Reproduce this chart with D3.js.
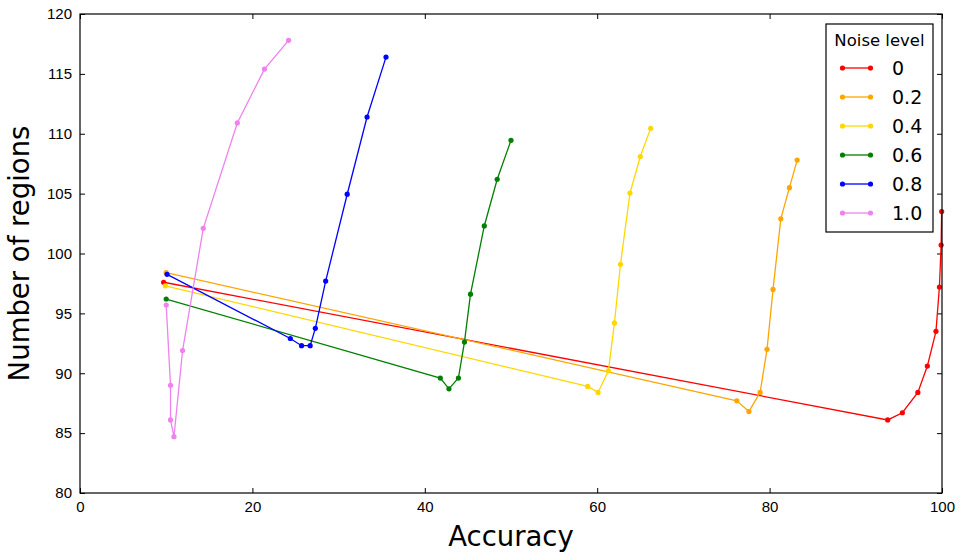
<!DOCTYPE html>
<head>
<meta charset="utf-8">
<script src="https://d3js.org/d3.v7.min.js"></script>
<style>
  body { margin: 0; background: #fff; }
  svg { font-family: "DejaVu Sans", sans-serif; }
  .tick text { font-size: 15px; fill: #000; }
  .tick line { stroke: #000; }
  .frame { fill: none; stroke: #000; stroke-width: 1.2px; }
  .series { fill: none; stroke-width: 1.3px; }
  .ax-title { font-size: 27.5px; fill: #000; }
  .leg-title { font-size: 16.5px; }
  .leg-label { font-size: 19px; }
</style>
</head>
<body>
<script>
// noise levels and colours
var noiseLevels = ["0", "0.2", "0.4", "0.6", "0.8", "1.0"];
var colors = ["#ff0000", "#ffa500", "#ffd700", "#008000", "#0000ff", "#ee82ee"];

// accuracy (x) per noise level
var acc0  = [9.7, 93.7, 95.4, 97.2, 98.3, 99.3, 99.7, 99.9, 99.96];
var acc02 = [10.0, 76.2, 77.6, 78.9, 79.7, 80.4, 81.3, 82.3, 83.2];
var acc04 = [9.9, 58.9, 60.1, 61.3, 62.0, 62.7, 63.8, 65.0, 66.2];
var acc06 = [10.0, 41.8, 42.8, 43.9, 44.6, 45.3, 46.9, 48.4, 50.0];
var acc08 = [10.1, 24.4, 25.7, 26.7, 27.3, 28.5, 31.0, 33.3, 35.5];
var acc10 = [10.0, 10.5, 10.5, 10.9, 11.9, 14.3, 18.25, 21.4, 24.2];

// number of regions (y) per noise level
var reg0  = [97.6, 86.1, 86.7, 88.4, 90.6, 93.5, 97.2, 100.7, 103.5];
var reg02 = [98.4, 87.7, 86.8, 88.4, 92.0, 97.0, 102.9, 105.5, 107.8];
var reg04 = [97.3, 88.9, 88.4, 90.2, 94.2, 99.1, 105.05, 108.1, 110.45];
var reg06 = [96.2, 89.6, 88.7, 89.6, 92.6, 96.6, 102.3, 106.2, 109.45];
var reg08 = [98.26, 92.9, 92.3, 92.3, 93.75, 97.7, 104.95, 111.4, 116.4];
var reg10 = [95.7, 89.0, 86.1, 84.7, 91.9, 102.1, 110.9, 115.4, 117.8];

var xTicks = [0, 20, 40, 60, 80, 100];
var yTicks = [80, 85, 90, 95, 100, 105, 110, 115, 120];

var accs = [acc0, acc02, acc04, acc06, acc08, acc10];
var regs = [reg0, reg02, reg04, reg06, reg08, reg10];
var series = noiseLevels.map(function(n, i) {
  return { name: n, color: colors[i],
    pts: accs[i].map(function(a, j) { return [a, regs[i][j]]; }) };
});

var W = 969, H = 554;
var margin = {top: 14, right: 27, bottom: 61, left: 80},
    width = W - margin.left - margin.right,
    height = H - margin.top - margin.bottom;

var svg = d3.select("body").append("svg")
    .attr("width", W).attr("height", H);
var g = svg.append("g")
    .attr("transform", "translate(" + margin.left + "," + margin.top + ")");

var x = d3.scaleLinear().domain([0, 100]).range([0, width]);
var y = d3.scaleLinear().domain([80, 120]).range([height, 0]);

// axes with inward ticks
g.append("g").attr("transform", "translate(0," + height + ")")
  .call(d3.axisBottom(x).tickValues(xTicks).tickSize(-5).tickPadding(8))
  .call(function(s) { s.select(".domain").remove(); });
g.append("g")
  .call(d3.axisTop(x).tickValues(xTicks).tickSize(-5).tickFormat(""))
  .call(function(s) { s.select(".domain").remove(); });
g.append("g")
  .call(d3.axisLeft(y).tickValues(yTicks).tickSize(-5).tickPadding(8))
  .call(function(s) { s.select(".domain").remove(); });
g.append("g").attr("transform", "translate(" + width + ",0)")
  .call(d3.axisRight(y).tickValues(yTicks).tickSize(-5).tickFormat(""))
  .call(function(s) { s.select(".domain").remove(); });

var line = d3.line()
  .x(function(d) { return x(d[0]); })
  .y(function(d) { return y(d[1]); });

var sg = g.selectAll(".s").data(series).enter().append("g");
sg.append("path")
  .attr("class", "series")
  .attr("stroke", function(d) { return d.color; })
  .attr("d", function(d) { return line(d.pts); });
sg.each(function(d) {
  d3.select(this).selectAll("circle").data(d.pts).enter().append("circle")
    .attr("cx", function(p) { return x(p[0]); })
    .attr("cy", function(p) { return y(p[1]); })
    .attr("r", 2.6)
    .attr("fill", d.color);
});

g.append("rect").attr("class", "frame")
  .attr("width", width).attr("height", height);

// axis titles
svg.append("text").attr("class", "ax-title")
  .attr("x", margin.left + width / 2).attr("y", 546)
  .attr("text-anchor", "middle").text("Accuracy");
svg.append("text").attr("class", "ax-title")
  .attr("transform", "translate(29," + (margin.top + height / 2) + ") rotate(-90)")
  .attr("text-anchor", "middle").text("Number of regions");

// legend
var lg = svg.append("g").attr("transform", "translate(826,24)");
lg.append("rect").attr("width", 107).attr("height", 208)
  .attr("fill", "#fff").attr("stroke", "#000").attr("stroke-width", 1.2);
lg.append("text").attr("class", "leg-title")
  .attr("x", 53.5).attr("y", 21.5).attr("text-anchor", "middle").text("Noise level");
var le = lg.selectAll(".le").data(series).enter().append("g")
  .attr("transform", function(d, i) { return "translate(0," + (44 + i * 29) + ")"; });
le.append("line").attr("x1", 16.5).attr("x2", 44.5)
  .attr("stroke", function(d) { return d.color; }).attr("stroke-width", 1.3);
le.selectAll("circle").data(function(d) { return [d, d]; }).enter().append("circle")
  .attr("cx", function(d, i) { return i ? 44.5 : 16.5; })
  .attr("r", 2.6).attr("fill", function(d) { return d.color; });
le.append("text").attr("class", "leg-label")
  .attr("x", 66).attr("dy", "0.35em").text(function(d) { return d.name; });
</script>
</body>
